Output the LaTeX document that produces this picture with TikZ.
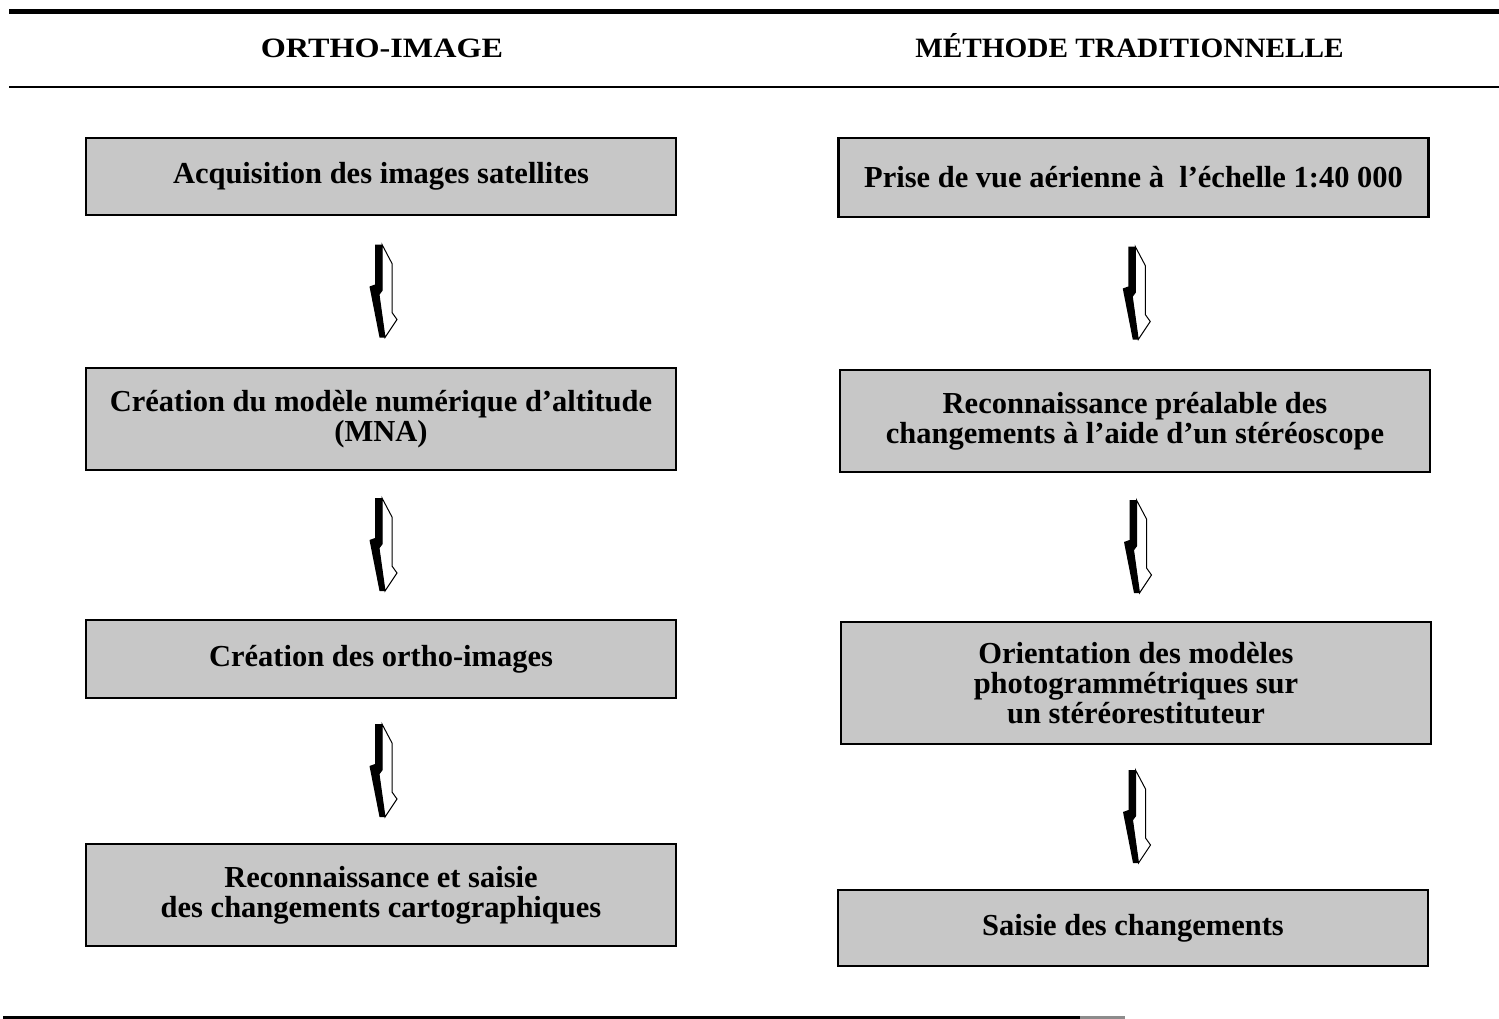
\documentclass[tikz,border=0pt]{standalone}
\usepackage{fontspec}
\setmainfont{Liberation Serif}
\usetikzlibrary{calc}
\tikzset{
  box/.style={draw=black, line width=2.5pt, fill=black!22, minimum width=590pt,
    inner sep=0pt, align=center, font=\fontsize{30.5}{30}\selectfont\bfseries},
  header/.style={anchor=base, inner sep=0pt, font=\fontsize{28}{30}\selectfont\bfseries},
  flowarrow/.pic={
    \begin{scope}[shift={(-6,-47)}]
      \filldraw[fill=white, draw=black, line width=1pt, line join=miter]
        (7,0) -- (17,19) -- (17,68) -- (22,75) -- (10,93) -- (4,50) -- (7,46) -- cycle;
      \fill[black] (0,0) -- (7,0) -- (7,46) -- (4,50) -- (10,93) -- (4.5,93)
        -- (-5.5,42) -- (0,40) -- cycle;
    \end{scope}
  }
}
\begin{document}
\begin{tikzpicture}[x=1pt, y=-1pt]
\useasboundingbox (0,0) rectangle (1499,1019);
% rules
\coordinate (t1) at (9,11.5);   \coordinate (t2) at (1499,11.5);
\coordinate (s1) at (9,87);     \coordinate (s2) at (1499,87);
\coordinate (b1) at (3,1017.5); \coordinate (b2) at (1080,1017.5); \coordinate (b3) at (1125,1017.5);
\draw[line width=5pt] (t1) -- (t2);
\draw[line width=1.6pt] (s1) -- (s2);
\draw[line width=2.5pt] (b1) -- (b2);
\draw[line width=2.5pt, black!45] (b2) -- (b3);
% headers
\node[header] (H1) at (382,58) {\scalebox{1.15}[1]{ORTHO-IMAGE}};
\node[header] (H2) at (1129.5,58) {\scalebox{1.045}[1]{MÉTHODE TRADITIONNELLE}};
% left column
\node[box, minimum height=77pt]  (L1) at (381,176.5) {Acquisition des images satellites};
\node[box, minimum height=102pt] (L2) at (381,419) {Création du modèle numérique d’altitude\\(MNA)};
\node[box, minimum height=78pt]  (L3) at (381,659) {Création des ortho-images};
\node[box, minimum height=102pt] (L4) at (381,895) {Reconnaissance et saisie\\des changements cartographiques};
% right column
\node[box, minimum height=79pt]  (R1) at (1133.5,177.5) {Prise de vue aérienne à~ l’échelle 1:40 000};
\node[box, minimum height=102pt] (R2) at (1135,421) {Reconnaissance préalable des\\changements à l’aide d’un stéréoscope};
\node[box, minimum height=122pt] (R3) at (1136,683) {Orientation des modèles\\photogrammétriques sur\\un stéréorestituteur};
\node[box, minimum height=76pt]  (R4) at (1133,928) {Saisie des changements};
% arrows
\pic at ($(L1.south)!0.5!(L2.north)$) {flowarrow};
\pic at ($(L2.south)!0.5!(L3.north)$) {flowarrow};
\pic at ($(L3.south)!0.5!(L4.north)$) {flowarrow};
\pic at ($(R1.south)!0.5!(R2.north)$) {flowarrow};
\pic at ($(R2.south)!0.5!(R3.north)$) {flowarrow};
\pic at ($(R3.south)!0.5!(R4.north)$) {flowarrow};
\end{tikzpicture}
\end{document}
